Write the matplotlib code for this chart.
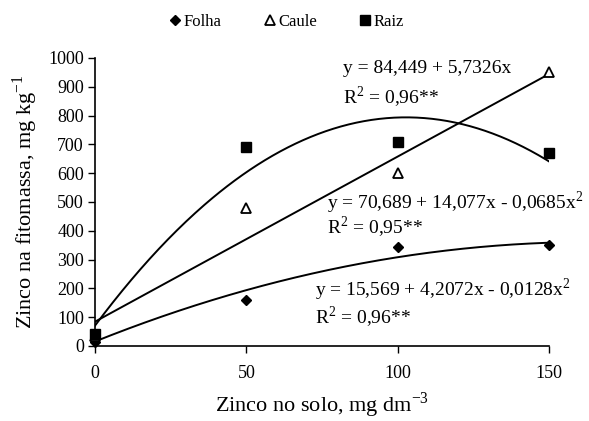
import numpy as np
import matplotlib
matplotlib.use("Agg")
import matplotlib.pyplot as plt

plt.rcParams['font.family'] = ['Liberation Serif', 'DejaVu Serif']
plt.rcParams['mathtext.fontset'] = 'custom'
plt.rcParams['mathtext.rm'] = 'Liberation Serif'

# Data
zinc_soil = [0, 50, 100, 150]
folha = [15, 160, 345, 350]
caule = [35, 480, 600, 950]
raiz = [40, 690, 710, 670]

# Trendline coefficients (highest order first)
coef_folha = [-0.0128, 4.2072, 15.569]
coef_caule = [5.7326, 84.449]
coef_raiz = [-0.0685, 14.077, 70.689]

eq_caule = ["y = 84,449 + 5,7326x", "R$^{2}$ = 0,96**"]
eq_raiz = ["y = 70,689 + 14,077x - 0,0685x$^{2}$", "R$^{2}$ = 0,95**"]
eq_folha = ["y = 15,569 + 4,2072x - 0,0128x$^{2}$", "R$^{2}$ = 0,96**"]

xticks = [0, 50, 100, 150]
yticks = [0, 100, 200, 300, 400, 500, 600, 700, 800, 900, 1000]

fig = plt.figure(figsize=(5.89, 4.21), dpi=100)
ax = fig.add_axes([95/589, 1 - 346/421, (549-95)/589, (346-58)/421])

xs = np.linspace(0, 150, 300)
ax.plot(xs, np.polyval(coef_folha, xs), color='black', lw=1.4, zorder=2)
ax.plot(xs, np.polyval(coef_caule, xs), color='black', lw=1.4, zorder=2)
ax.plot(xs, np.polyval(coef_raiz, xs), color='black', lw=1.4, zorder=2)

h1 = ax.plot(zinc_soil, folha, linestyle='none', marker='D', markersize=5.5,
             color='black', label='Folha', zorder=3, clip_on=False)[0]
h2 = ax.plot(zinc_soil, caule, linestyle='none', marker='^', markersize=7,
             markerfacecolor='white', markeredgecolor='black', markeredgewidth=1.3,
             label='Caule', zorder=3, clip_on=False)[0]
h3 = ax.plot(zinc_soil, raiz, linestyle='none', marker='s', markersize=7.5,
             color='black', label='Raiz', zorder=4, clip_on=False)[0]

ax.set_xlim(0, 150)
ax.set_ylim(0, 1000)
ax.set_xticks(xticks)
ax.set_yticks(yticks)
ax.tick_params(axis='both', direction='out', length=5, width=1, labelsize=13, colors='black')
ax.tick_params(axis='x', pad=9)
ax.tick_params(axis='y', pad=3)
for s in ['top', 'right']:
    ax.spines[s].set_visible(False)
for s in ['left', 'bottom']:
    ax.spines[s].set_linewidth(1.2)

ax.set_xlabel("Zinco no solo, mg dm$^{-3}$", fontsize=16, labelpad=6)
ax.set_ylabel("Zinco na fitomassa, mg kg$^{-1}$", fontsize=16, labelpad=6)

fs = 14
ax.text(82, 962, eq_caule[0], fontsize=fs, ha='left', va='center')
ax.text(82, 865, eq_caule[1], fontsize=fs, ha='left', va='center')
ax.text(76.5, 497, eq_raiz[0], fontsize=fs, ha='left', va='center', clip_on=False)
ax.text(76.5, 413, eq_raiz[1], fontsize=fs, ha='left', va='center')
ax.text(72.6, 194, eq_folha[0], fontsize=fs, ha='left', va='center')
ax.text(72.6, 101, eq_folha[1], fontsize=fs, ha='left', va='center')

fig.legend(handles=[h1, h2, h3], loc='center', bbox_to_anchor=(0.487, 0.948),
           ncol=3, frameon=False, fontsize=12, handlelength=0.6, handletextpad=0.2,
           columnspacing=2.6)

fig.savefig("out.png", dpi=100)
